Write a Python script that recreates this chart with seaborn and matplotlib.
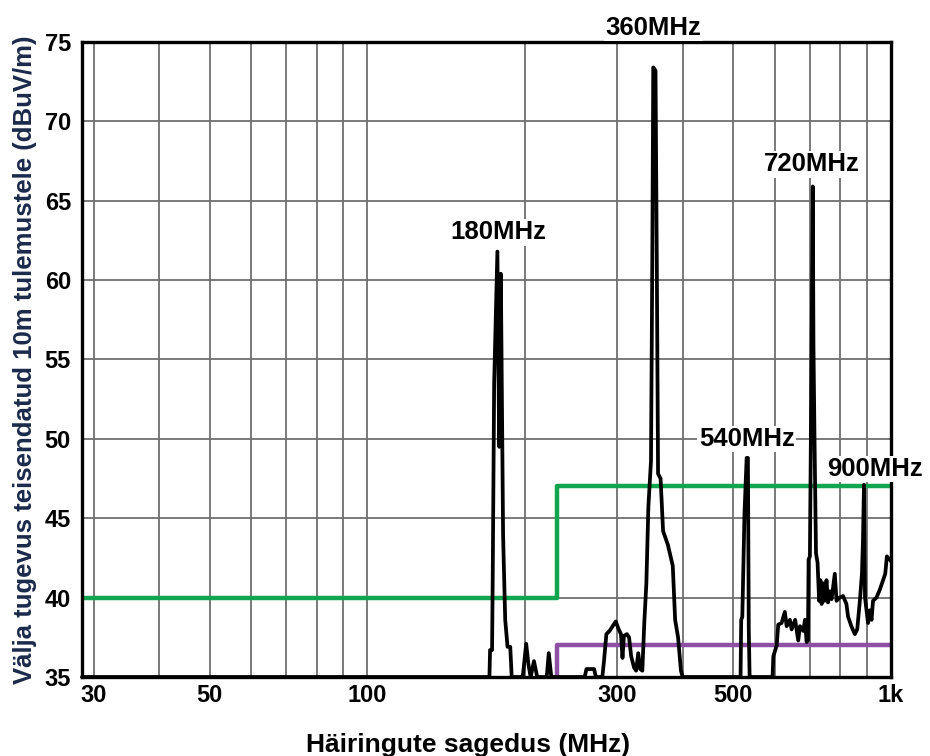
"""
Radiated emission scan vs. class A / class B limits (10 m), log frequency axis.
"""

import matplotlib

matplotlib.use("Agg")
import matplotlib.pyplot as plt
import pandas as pd
import seaborn as sns
from matplotlib.ticker import FixedLocator, NullFormatter

SCAN_MHZ = [
    28.5, 171.0, 171.5, 173.0, 173.5, 174.6, 177.1, 178.5, 179.8, 181.6, 183.3, 185.2, 187.4, 188.6,
    194.7, 198.0, 201.0, 203.0, 205.0, 208.0, 211.0, 220.0, 222.0, 224.5,
    260.0, 262.0, 271.0, 273.0,
    281.0, 283.0, 286.0, 290.0, 294.0, 298.0, 302.0, 305.0, 307.0, 309.0, 313.0, 316.0, 319.0,
    323.0, 326.0, 329.0, 332.0, 335.0, 338.0, 341.0, 344.0, 348.0, 350.0, 351.5, 355.0, 357.0,
    359.0, 363.0, 367.0, 375.0, 383.0, 387.0, 392.0, 397.0, 400.0,
    516.0, 517.5, 520.0, 525.0, 530.0, 533.0, 535.0, 537.0,
    594.0, 596.0, 605.0, 609.0, 618.0, 627.0, 632.0, 641.0, 646.0, 656.0, 665.0, 670.0, 680.0,
    685.0, 690.0, 694.0, 696.0, 700.0, 705.0, 709.0, 711.0, 714.0, 719.0, 724.0, 729.0, 733.0,
    737.0, 742.0, 747.0, 753.0, 758.0, 764.0, 770.0, 781.0, 787.0, 798.0, 810.0, 822.0, 828.0,
    840.0, 853.0, 862.0, 872.0, 880.0, 884.0, 888.0, 892.0, 898.0, 904.0, 911.0, 918.0, 924.0,
    938.0, 952.0, 966.0, 975.0, 982.0, 1000.0,
]
SCAN_DB = [
    35.0, 35.0, 36.7, 36.7, 41.2, 53.5, 61.8, 49.5, 60.4, 43.9, 38.6, 36.9, 36.9, 35.0,
    35.0, 35.0, 37.1, 35.8, 35.0, 36.0, 35.0, 35.0, 36.5, 35.0,
    35.0, 35.5, 35.5, 35.0,
    35.0, 36.0, 37.7, 37.9, 38.2, 38.5, 38.0, 37.7, 36.2, 37.6, 37.7, 37.5, 36.3,
    35.6, 35.4, 36.5, 35.5, 35.4, 38.5, 40.9, 45.7, 48.6, 61.2, 73.4, 73.2, 61.2,
    47.8, 47.5, 44.2, 43.3, 42.0, 38.6, 37.5, 35.4, 35.0,
    35.0, 38.6, 38.8, 45.3, 48.8, 48.8, 38.0, 35.0,
    35.0, 36.3, 37.0, 38.3, 38.4, 39.1, 38.2, 38.6, 38.0, 38.6, 37.3, 38.2, 37.9,
    38.6, 37.2, 37.3, 42.4, 42.6, 55.0, 65.9, 56.0, 50.6, 42.8, 42.2, 39.8, 41.1,
    39.6, 40.9, 39.8, 41.1, 39.7, 40.4, 39.9, 41.5, 39.8, 40.0, 40.1, 39.6, 38.8,
    38.2, 37.7, 38.0, 39.8, 41.5, 43.6, 47.1, 40.0, 39.2, 38.4, 39.2, 38.6, 39.8,
    40.0, 40.5, 41.1, 41.5, 42.6, 42.3,
]

# limit lines
CLASS_A_MHZ = [28.5, 230, 230, 1000]
CLASS_A_DB = [40, 40, 47, 47]
CLASS_B_MHZ = [230, 230, 1000]
CLASS_B_DB = [35, 37, 37]

# harmonic labels
PEAK_LABELS = ["180MHz", "360MHz", "540MHz", "720MHz", "900MHz"]
PEAK_X = [178, 352, 530, 707, 932]
PEAK_Y = [63.0, 75.9, 50.0, 67.3, 48.1]

X_TICKS = [30, 50, 100, 300, 500, 1000]
X_TICK_LABELS = ["30", "50", "100", "300", "500", "1k"]
X_GRID = [40, 50, 60, 70, 80, 90, 100, 200, 300, 400, 500, 600, 700, 800, 900]
Y_TICKS = [35, 40, 45, 50, 55, 60, 65, 70, 75]


def main() -> None:
    sns.set_theme(style="white")
    plt.rcParams["font.family"] = ["Liberation Sans", "DejaVu Sans"]
    plt.rcParams["font.weight"] = "bold"

    fig = plt.figure(figsize=(9.3, 7.56), dpi=100)
    ax = fig.add_axes([82 / 930, 1 - 677 / 756, (891 - 82) / 930, (677 - 42) / 756])
    ax.set_xscale("log")

    scan = pd.DataFrame({"mhz": SCAN_MHZ, "db": SCAN_DB})
    lim_a = pd.DataFrame({"mhz": CLASS_A_MHZ, "db": CLASS_A_DB})
    lim_b = pd.DataFrame({"mhz": CLASS_B_MHZ, "db": CLASS_B_DB})

    sns.lineplot(data=lim_a, x="mhz", y="db", color="#12a550", lw=3.2, sort=False,
                 estimator=None, ax=ax, zorder=3)
    sns.lineplot(data=lim_b, x="mhz", y="db", color="#8e4fa6", lw=3.2, sort=False,
                 estimator=None, ax=ax, zorder=3)
    sns.lineplot(data=scan, x="mhz", y="db", color="black", lw=2.7, sort=False,
                 estimator=None, ax=ax, zorder=4, clip_on=False)

    ax.set_xlim(28.5, 1000)
    ax.set_ylim(35, 75)

    ax.xaxis.set_major_locator(FixedLocator(X_TICKS))
    ax.xaxis.set_minor_locator(FixedLocator(X_GRID))
    ax.xaxis.set_minor_formatter(NullFormatter())
    ax.set_xticklabels(X_TICK_LABELS)
    ax.set_yticks(Y_TICKS)
    ax.tick_params(axis="both", which="both", length=0, labelsize=17, colors="black")
    ax.tick_params(axis="x", pad=5)
    ax.tick_params(axis="y", pad=8)
    for lab in ax.get_xticklabels() + ax.get_yticklabels():
        lab.set_fontweight("bold")

    ax.grid(True, which="both", axis="x", color="#707070", lw=1.3)
    ax.grid(True, which="major", axis="y", color="#707070", lw=1.3)
    ax.set_axisbelow(True)
    for side in ax.spines.values():
        side.set_color("black")
        side.set_linewidth(2.4)
        side.set_zorder(5)

    for text, x, y in zip(PEAK_LABELS, PEAK_X, PEAK_Y):
        ax.text(x, y, text, ha="center", va="center", fontsize=18.5, fontweight="bold",
                color="black", zorder=6, clip_on=False,
                bbox=dict(facecolor="white", edgecolor="none", pad=1.0))

    ax.set_xlabel("Häiringute sagedus (MHz)", fontsize=19, fontweight="bold", color="black")
    ax.set_ylabel("Välja tugevus teisendatud 10m tulemustele (dBuV/m)", fontsize=18.5,
                  fontweight="bold", color="#1b2a4a")
    ax.xaxis.set_label_coords(0.477, -0.107)
    ax.yaxis.set_label_coords(-0.071, 0.5)
    ax.xaxis.label.set_va("center")
    ax.yaxis.label.set_va("center")

    fig.savefig("out.png", dpi=100, facecolor="white")


if __name__ == "__main__":
    main()
